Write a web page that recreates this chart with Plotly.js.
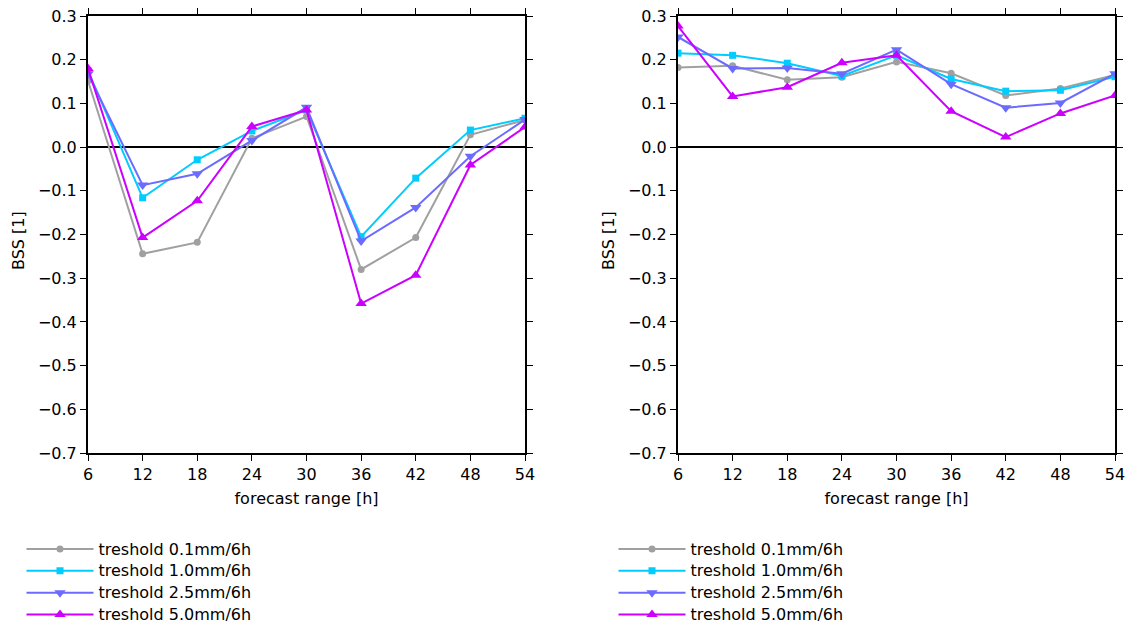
<!DOCTYPE html>
<html>
<head>
<meta charset="utf-8">
<script src="https://cdn.plot.ly/plotly-3.0.1.min.js"></script>
<style>html,body{margin:0;padding:0;background:#fff;}#chart{width:1129px;height:625px;}</style>
</head>
<body>
<div id="chart"></div>
<script>
const forecastRange = [6, 12, 18, 24, 30, 36, 42, 48, 54];
const seriesNames = ["treshold 0.1mm/6h", "treshold 1.0mm/6h", "treshold 2.5mm/6h", "treshold 5.0mm/6h"];
const yTitle = "BSS [1]";
const xTitle = "forecast range [h]";

// left panel
const left01 = [0.152, -0.244, -0.218, 0.020, 0.070, -0.280, -0.207, 0.028, 0.062];
const left10 = [0.175, -0.116, -0.029, 0.037, 0.085, -0.205, -0.071, 0.039, 0.066];
const left25 = [0.168, -0.087, -0.061, 0.015, 0.091, -0.215, -0.138, -0.021, 0.063];
const left50 = [0.180, -0.207, -0.123, 0.047, 0.085, -0.358, -0.293, -0.041, 0.046];

// right panel
const right01 = [0.182, 0.186, 0.154, 0.160, 0.195, 0.169, 0.118, 0.134, 0.165];
const right10 = [0.215, 0.210, 0.192, 0.163, 0.210, 0.156, 0.128, 0.130, 0.161];
const right25 = [0.252, 0.180, 0.181, 0.168, 0.223, 0.144, 0.090, 0.101, 0.168];
const right50 = [0.277, 0.116, 0.137, 0.193, 0.210, 0.082, 0.023, 0.077, 0.118];

const colors = ["#a0a0a0", "#00ccff", "#6b6bff", "#cc00ff"];
const symbols = ["circle", "square", "triangle-down", "triangle-up"];
const sizes = [7, 7, 10, 10];

const leftData = [left01, left10, left25, left50];
const rightData = [right01, right10, right25, right50];

function legendLabel(s) { return '<span style="font-size:16px">' + s + '</span>'; }

const traces = [];
leftData.forEach((ys, i) => {
  traces.push({
    x: forecastRange, y: ys, name: legendLabel(seriesNames[i]), type: "scatter", mode: "lines+markers",
    xaxis: "x", yaxis: "y", legend: "legend",
    line: {color: colors[i], width: 2},
    marker: {color: colors[i], symbol: symbols[i], size: sizes[i]}
  });
});
rightData.forEach((ys, i) => {
  traces.push({
    x: forecastRange, y: ys, name: legendLabel(seriesNames[i]), type: "scatter", mode: "lines+markers",
    xaxis: "x2", yaxis: "y2", legend: "legend2",
    line: {color: colors[i], width: 2},
    marker: {color: colors[i], symbol: symbols[i], size: sizes[i]}
  });
});

const fontFam = "DejaVu Sans, sans-serif";
function xax(domain, anchor) {
  return {
    domain: domain, anchor: anchor, range: [6, 54], tickvals: forecastRange,
    ticks: "outside", ticklen: 6, tickwidth: 1, tickcolor: "#000",
    showline: true, linecolor: "#000", linewidth: 2, mirror: "ticks",
    showgrid: false, zeroline: false, automargin: true,
    tickfont: {family: fontFam, size: 16, color: "#000"},
    title: {text: xTitle, font: {family: fontFam, size: 16, color: "#000"}, standoff: 10}
  };
}
function yax(domain, anchor) {
  return {
    domain: domain, anchor: anchor, range: [-0.7, 0.3], dtick: 0.1, tick0: 0, tickformat: ".1f",
    ticks: "outside", ticklen: 6, tickwidth: 1, tickcolor: "#000",
    showline: true, linecolor: "#000", linewidth: 2, mirror: "ticks",
    showgrid: false, zeroline: true, zerolinecolor: "#000", zerolinewidth: 1.5, automargin: false,
    tickfont: {family: fontFam, size: 16, color: "#000"}
  };
}

const W = 1129, H = 625;
const mL = 88, mR = 14, mT = 16, mB = 172;
const PW = W - mL - mR;
const legendCommon = {
  xref: "container", yref: "container",
  yanchor: "top", xanchor: "left", bgcolor: "rgba(0,0,0,0)",
  font: {family: fontFam, size: 14.5, color: "#000"},
  itemwidth: 67, tracegroupgap: 0, traceorder: "normal"
};

function yTitleAnn(xPx) {
  return {
    text: yTitle, xref: "paper", yref: "paper", x: (xPx - mL) / PW, y: 0.485,
    xanchor: "center", yanchor: "middle", textangle: -90, showarrow: false,
    font: {family: fontFam, size: 16, color: "#000"}
  };
}

const layout = {
  width: W, height: H,
  margin: {l: mL, r: mR, t: mT, b: mB, autoexpand: false},
  paper_bgcolor: "#fff", plot_bgcolor: "#fff",
  showlegend: true,
  xaxis: xax([0, 437 / PW], "y"),
  yaxis: yax([0, 1], "x"),
  xaxis2: xax([(678 - mL) / PW, 1], "y2"),
  yaxis2: yax([0, 1], "x2"),
  annotations: [yTitleAnn(18), yTitleAnn(608)],
  legend: Object.assign({x: 21.5 / W, y: 1 - 533 / H}, legendCommon),
  legend2: Object.assign({x: 613.5 / W, y: 1 - 533 / H}, legendCommon)
};

Plotly.newPlot("chart", traces, layout, {displayModeBar: false, staticPlot: true});
</script>
</body>
</html>
